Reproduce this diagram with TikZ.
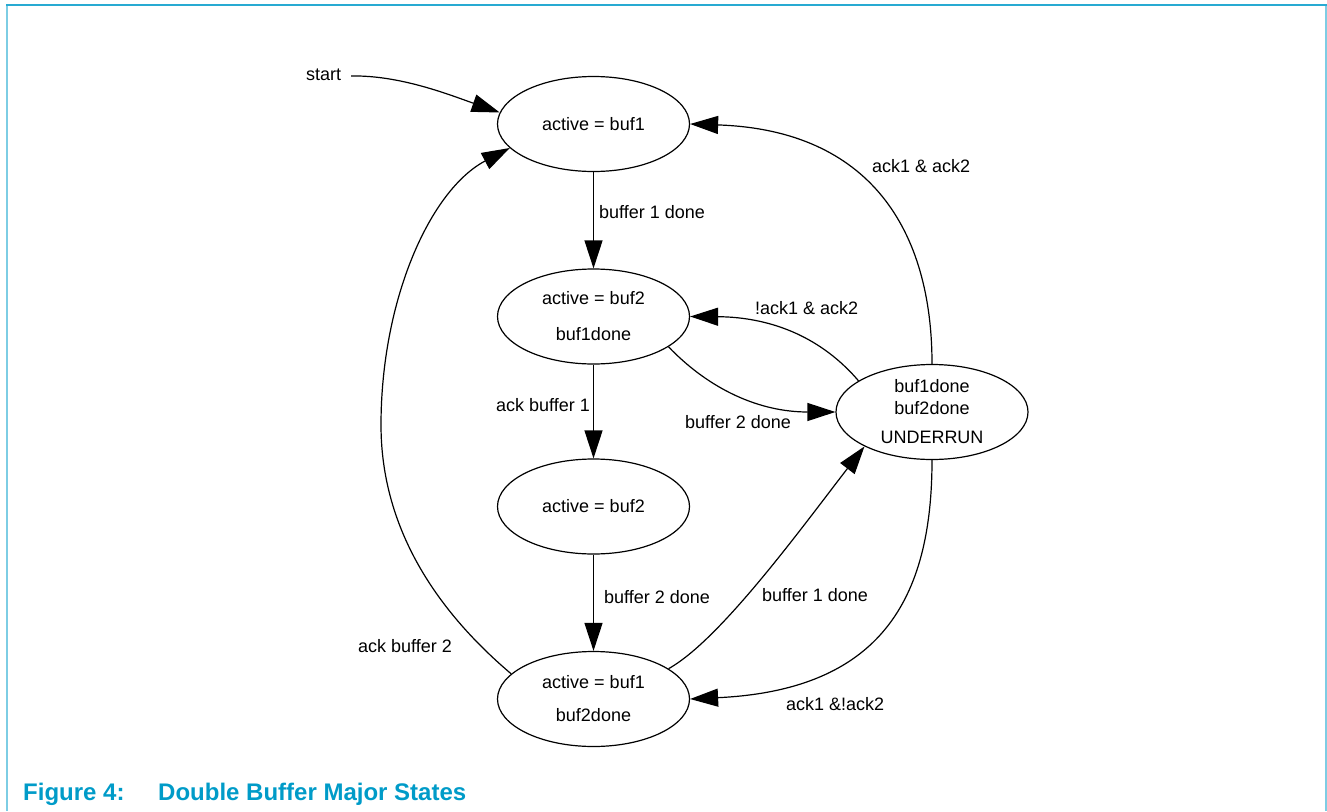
\documentclass[tikz,border=0pt]{standalone}
\usepackage{fontspec}
\setmainfont{Liberation Sans}
\usetikzlibrary{arrows.meta,shapes.geometric}
\definecolor{capblue}{RGB}{0,155,200}
\definecolor{frametop}{RGB}{40,170,210}
\definecolor{frameside}{RGB}{125,205,228}
\begin{document}
\begin{tikzpicture}[x=1pt,y=-1pt,
  state/.style={ellipse,draw,line width=1.2pt,minimum width=192pt,minimum height=95pt,inner sep=0pt,align=center,font=\fontsize{18}{21.6}\selectfont},
  lbl/.style={inner sep=0pt,anchor=base west,font=\fontsize{18}{21.6}\selectfont},
  tr/.style={line width=1.2pt,-{Triangle[length=28pt,width=18pt]}},
  captxt/.style={inner sep=0pt,anchor=base west,font=\fontsize{24}{28}\selectfont\bfseries,text=capblue},
  topline/.style={draw=frametop,line width=2pt},
  sideline/.style={draw=frameside,line width=2pt}]
\useasboundingbox (0,0) rectangle (1327,811);
% frame
\draw[sideline] (7,4.5) -- (7,811);
\draw[sideline] (1326,4.5) -- (1326,811);
\draw[topline] (6,4.5) -- (1327,4.5);
% states
\node[state] (n1) at (593.5,124) {active = buf1};
\node[state] (n2) at (593.5,316.5) {active = buf2\\[14.4pt]buf1done};
\node[state] (n3) at (593.5,506.5) {active = buf2};
\node[state] (n4) at (593.5,699) {active = buf1\\[11.4pt]buf2done};
\node[state] (nu) at (932,412) {buf1done\\buf2done\\[7.8pt]UNDERRUN};
% start
\node[lbl] (st) at (306,80) {start};
\coordinate (s0) at (351,76);
% edges
\draw[tr] (s0) .. controls (400,75) and (450,95) .. (n1.173);
\draw[tr] (n1.south) -- (n2.north);
\draw[tr] (n2.south) -- (n3.north);
\draw[tr] (n3.south) -- (n4.north);
\draw[tr] (n2.338) .. controls (710,390) and (760,412) .. (nu.west);
\draw[tr] (nu.157) .. controls (815,330) and (760,317) .. (n2.east);
\draw[tr] (nu.north) .. controls (932,230) and (870,130) .. (n1.east);
\draw[tr] (n4.22) .. controls (720,640) and (800,530) .. (nu.207);
\draw[tr] (nu.south) .. controls (932,600) and (880,690) .. (n4.east);
\draw[tr] (n4.163) .. controls (450,622) and (381,540) .. (381,425) .. controls (381,300) and (430,190) .. (n1.196);
% labels
\node[lbl] (l1) at (599,218) {buffer 1 done};
\node[lbl] (l2) at (496,411) {ack buffer 1};
\node[lbl] (l3) at (604,603) {buffer 2 done};
\node[lbl] (l4) at (358,652) {ack buffer 2};
\node[lbl] (l5) at (685,428.5) {buffer 2 done};
\node[lbl] (l6) at (755,314.5) {!ack1 \& ack2};
\node[lbl] (l7) at (872,172) {ack1 \& ack2};
\node[lbl] (l8) at (762,601) {buffer 1 done};
\node[lbl] (l9) at (786,710) {ack1 \&!ack2};
% caption
\node[captxt] (c1) at (23,800) {Figure 4:};
\node[captxt] (c2) at (158,800) {Double Buffer Major States};
\end{tikzpicture}
\end{document}
